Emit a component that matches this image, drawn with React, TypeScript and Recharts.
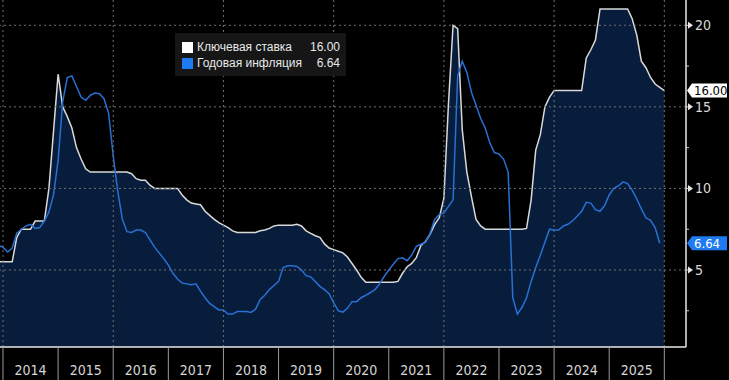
import React from 'react';
import { ComposedChart, Area, Line, XAxis, YAxis, ReferenceLine } from 'recharts';

// Monthly values, first entry = Nov 2013 (month index -1), then Dec 2013 (index 0) ...
const keyRate: number[] = [
  5.5, 5.5,
  5.5, 5.5, 7.0, 7.5, 7.5, 7.5, 8.0, 8.0, 8.0, 10.0, 13.5, 17.0,
  15.0, 14.4, 13.7, 12.5, 11.8, 11.2, 11.0, 11.0, 11.0, 11.0, 11.0, 11.0,
  11.0, 11.0, 11.0, 10.9, 10.6, 10.5, 10.5, 10.2, 10.0, 10.0, 10.0, 10.0,
  10.0, 10.0, 9.6, 9.3, 9.1, 9.05, 9.0, 8.6, 8.35, 8.1, 7.9, 7.75,
  7.6, 7.4, 7.3, 7.3, 7.3, 7.3, 7.3, 7.4, 7.45, 7.55, 7.7, 7.75,
  7.75, 7.75, 7.75, 7.8, 7.7, 7.4, 7.25, 7.1, 7.0, 6.6, 6.35, 6.25,
  6.15, 6.05, 5.8, 5.4, 5.0, 4.55, 4.25, 4.25, 4.25, 4.25, 4.25, 4.25,
  4.25, 4.3, 4.8, 5.2, 5.4, 5.76, 6.5, 6.75, 7.2, 7.8, 8.2, 9.4,
  15.2, 20.0, 19.8, 13.6, 11.0, 9.5, 8.1, 7.7, 7.5, 7.5, 7.5, 7.5,
  7.5, 7.5, 7.5, 7.5, 7.5, 7.55, 9.3, 12.35, 13.3, 15.0, 15.6, 16.0,
  16.0, 16.0, 16.0, 16.0, 16.0, 16.0, 18.0, 18.5, 19.1, 21.0, 21.0, 21.0,
  21.0, 21.0, 21.0, 21.0, 20.4, 19.4, 17.8, 17.4, 16.8, 16.4, 16.2, 16.0,
];

const inflation: number[] = [
  6.5, 6.4,
  6.1, 6.35, 7.25, 7.5, 7.7, 7.8, 7.55, 7.6, 8.0, 8.55, 9.6, 11.7,
  15.3, 16.8, 16.9, 16.25, 15.6, 15.4, 15.7, 15.85, 15.8, 15.5, 14.6, 12.0,
  9.8, 8.1, 7.35, 7.3, 7.45, 7.45, 7.3, 6.85, 6.4, 6.05, 5.7, 5.3,
  4.8, 4.45, 4.2, 4.15, 4.1, 4.15, 3.7, 3.3, 2.95, 2.75, 2.55, 2.55,
  2.3, 2.3, 2.45, 2.45, 2.45, 2.4, 2.6, 3.2, 3.45, 3.8, 4.05, 4.3,
  5.15, 5.26, 5.26, 5.22, 5.0, 4.65, 4.58, 4.3, 4.0, 3.8, 3.55, 3.0,
  2.5, 2.42, 2.65, 3.06, 3.06, 3.3, 3.45, 3.62, 3.8, 4.15, 4.6, 5.0,
  5.35, 5.7, 5.75, 5.57, 5.92, 6.45, 6.58, 6.7, 7.25, 8.1, 8.4, 8.5,
  8.9, 9.3, 16.9, 17.8, 17.1, 15.9, 15.1, 14.3, 13.7, 12.8, 12.2, 12.1,
  11.8, 11.0, 3.3, 2.3, 2.7, 3.3, 4.3, 5.15, 5.9, 6.7, 7.5, 7.45,
  7.45, 7.7, 7.8, 8.0, 8.3, 8.6, 9.15, 9.1, 8.7, 8.6, 8.95, 9.6,
  10.0, 10.15, 10.4, 10.3, 9.9, 9.35, 8.75, 8.2, 8.05, 7.6, 6.64,
];

const yearLabels = ['2014', '2015', '2016', '2017', '2018', '2019', '2020', '2021', '2022', '2023', '2024', '2025'];
const yearTicks = [0, 12, 24, 36, 48, 60, 72, 84, 96, 108, 120, 132, 144];
const gridX = [0, 24, 48, 72, 96, 120, 144];
const gridY = [5, 10, 15, 20];
const yTicks = [2.5, 5, 7.5, 10, 12.5, 15, 17.5, 20];
const lastRate = 16.0;
const lastInflation = 6.64;

const data = keyRate.map((r, i) => ({ m: i - 1, rate: r, cpi: inflation[i] }));

const W = 729;
const H = 380;
const Y_AXIS_W = 43;
const X_AXIS_H = 33;
const X_DOMAIN: [number, number] = [-0.653, 148.72];
const Y_DOMAIN: [number, number] = [0.28, 21.55];
const PX_PER_MONTH = (W - Y_AXIS_W) / (X_DOMAIN[1] - X_DOMAIN[0]);

const FONT = '"Liberation Sans Narrow", "Arial Narrow", "DejaVu Sans Condensed", "Liberation Sans", sans-serif';
const FONT_REG = '"Liberation Sans", Arial, "DejaVu Sans", sans-serif';

const XTick = (props: any) => {
  const { x, y, payload } = props;
  const idx = yearTicks.indexOf(payload.value);
  const label = yearLabels[idx];
  return (
    <g>
      <line x1={x} y1={y} x2={x} y2={H} stroke="#9a9a9a" strokeWidth={1} />
      {label && (
        <text x={x + PX_PER_MONTH * 6} y={y + 23} dy="0.35em" textAnchor="middle" fill="#d6d6d6" fontSize={14} fontFamily={FONT}>
          {label}
        </text>
      )}
    </g>
  );
};

const YTick = (props: any) => {
  const { x, y, payload } = props;
  const v = payload.value;
  const major = v % 5 === 0;
  return (
    <g>
      <line x1={x} y1={y} x2={x + 3} y2={y} stroke="#cfcfcf" strokeWidth={1} />
      {major && <path d={`M${x + 2},${y - 3.5} L${x + 7},${y} L${x + 2},${y + 3.5} Z`} fill="#e6e6e6" />}
      {major && (
        <text x={x + 9} y={y} dy="0.35em" fill="#d9d9d9" fontSize={14} fontFamily={FONT}>
          {v}
        </text>
      )}
    </g>
  );
};

const makeTag = (text: string, bg: string, fg: string) => (props: any) => {
  const vb = props.viewBox || {};
  const x = (vb.x || 0) + (vb.width || 0) + 1;
  const y = vb.y || 0;
  return (
    <g>
      <path d={`M${x},${y} L${x + 5},${y - 7} L${x + 40},${y - 7} L${x + 40},${y + 7} L${x + 5},${y + 7} Z`} fill={bg} />
      <text x={x + 7} y={y} dy="0.36em" fill={fg} fontSize={13} fontFamily={FONT}>
        {text}
      </text>
    </g>
  );
};

const Legend = () => (
  <div
    style={{
      position: 'absolute',
      left: 175,
      top: 33,
      width: 171,
      height: 43,
      background: '#161616',
      fontFamily: FONT_REG,
      fontSize: 12,
      color: '#e8e8e8',
    }}
  >
    <div style={{ position: 'absolute', left: 7, top: 9, width: 11, height: 11, background: '#ffffff' }} />
    <div style={{ position: 'absolute', left: 22, top: 7, whiteSpace: 'nowrap', lineHeight: '14px' }}>Ключевая ставка</div>
    <div style={{ position: 'absolute', right: 6, top: 7, lineHeight: '14px' }}>{lastRate.toFixed(2)}</div>
    <div style={{ position: 'absolute', left: 7, top: 25, width: 11, height: 11, background: '#1f7bf2' }} />
    <div style={{ position: 'absolute', left: 22, top: 23, whiteSpace: 'nowrap', lineHeight: '14px' }}>Годовая инфляция</div>
    <div style={{ position: 'absolute', right: 6, top: 23, lineHeight: '14px' }}>{lastInflation.toFixed(2)}</div>
  </div>
);

export default function App() {
  return (
    <div style={{ position: 'absolute', left: 0, top: 0, width: W, height: H, background: '#000000', overflow: 'hidden' }}>
      <ComposedChart width={W} height={H} data={data} margin={{ top: 0, right: 0, bottom: 0, left: 0 }}>
        <XAxis
          dataKey="m"
          type="number"
          domain={X_DOMAIN}
          allowDataOverflow
          ticks={yearTicks}
          interval={0}
          height={X_AXIS_H}
          tickSize={0}
          tickMargin={0}
          tickLine={false}
          axisLine={{ stroke: '#e8e8e8', strokeWidth: 1.5 }}
          tick={<XTick />}
        />
        <YAxis
          orientation="right"
          type="number"
          domain={Y_DOMAIN}
          allowDataOverflow
          ticks={yTicks}
          interval={0}
          width={Y_AXIS_W}
          tickSize={0}
          tickMargin={0}
          tickLine={false}
          axisLine={{ stroke: '#e8e8e8', strokeWidth: 1.5 }}
          tick={<YTick />}
        />
        <Area
          type="linear"
          dataKey="rate"
          stroke="#d9d9d9"
          strokeWidth={1.5}
          fill="#081d3b"
          fillOpacity={1}
          isAnimationActive={false}
          dot={false}
          activeDot={false}
        />
        <Line
          type="linear"
          dataKey="cpi"
          stroke="#2770d4"
          strokeWidth={1.5}
          dot={false}
          activeDot={false}
          isAnimationActive={false}
        />
        {gridY.map((v) => (
          <ReferenceLine key={`gy${v}`} y={v} stroke="#707070" strokeDasharray="2 3" strokeWidth={1} />
        ))}
        {gridX.map((v) => (
          <ReferenceLine key={`gx${v}`} x={v} stroke="#707070" strokeDasharray="2 3" strokeWidth={1} />
        ))}
        <ReferenceLine y={lastRate} stroke="none" label={makeTag(lastRate.toFixed(2), '#ffffff', '#000000')} />
        <ReferenceLine y={lastInflation} stroke="none" label={makeTag(lastInflation.toFixed(2), '#1f7bf2', '#ffffff')} />
      </ComposedChart>
      <Legend />
    </div>
  );
}
